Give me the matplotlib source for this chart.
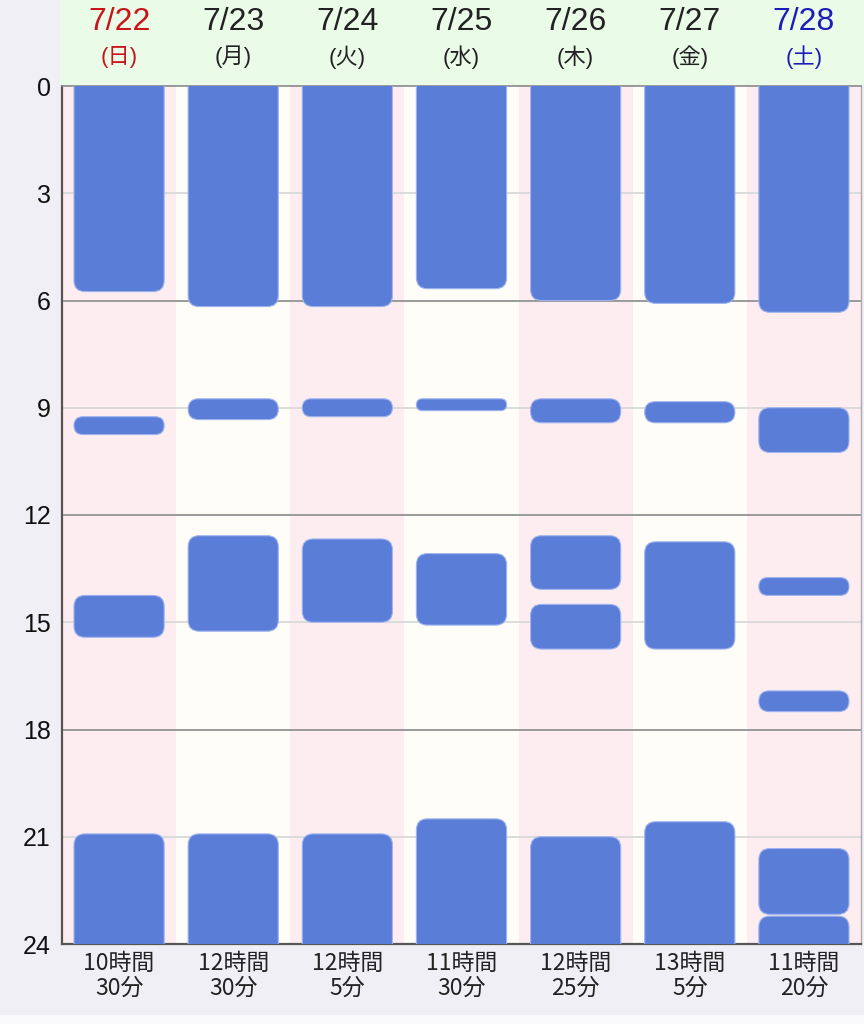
import matplotlib
matplotlib.use("Agg")
import matplotlib.pyplot as plt
from matplotlib.patches import FancyBboxPatch, Rectangle

plt.rcParams['font.family'] = ['Noto Sans CJK JP', 'DejaVu Sans']

# ---------------- data ----------------
dates = ['7/22', '7/23', '7/24', '7/25', '7/26', '7/27', '7/28']
weekdays = ['(日)', '(月)', '(火)', '(水)', '(木)', '(金)', '(土)']
date_colors = ['#c8151b', '#222222', '#222222', '#222222', '#222222', '#222222', '#1c1cb8']
totals = ['10時間\n30分', '12時間\n30分', '12時間\n5分', '11時間\n30分',
          '12時間\n25分', '13時間\n5分', '11時間\n20分']

sleep_start = [
    [0.0, 9.25, 14.25, 20.92],
    [0.0, 8.75, 12.58, 20.92],
    [0.0, 8.75, 12.67, 20.92],
    [0.0, 8.75, 13.08, 20.5],
    [0.0, 8.75, 12.58, 14.5, 21.0],
    [0.0, 8.83, 12.75, 20.58],
    [0.0, 9.0, 13.75, 16.92, 21.33, 23.22],
]
sleep_end = [
    [5.75, 9.75, 15.42, 24.0],
    [6.17, 9.33, 15.25, 24.0],
    [6.17, 9.25, 15.0, 24.0],
    [5.67, 9.08, 15.08, 24.0],
    [6.0, 9.42, 14.08, 15.75, 24.0],
    [6.08, 9.42, 15.75, 24.0],
    [6.33, 10.25, 14.25, 17.5, 23.17, 24.0],
]
hour_ticks = [0, 3, 6, 9, 12, 15, 18, 21, 24]

# ---------------- layout ----------------
W, H = 864, 1024
fig = plt.figure(figsize=(W / 100, H / 100), dpi=100, facecolor='#efeff5')
fig.patches.append(Rectangle((0, 0), 1, 9 / H, transform=fig.transFigure,
                             facecolor='#f9f9fb', edgecolor='none', zorder=0))

x0, x1 = 62, 861
y0, y1 = 86, 944
ax = fig.add_axes([x0 / W, 1 - y1 / H, (x1 - x0) / W, (y1 - y0) / H])
n = len(dates)
ax.set_xlim(-0.5, n - 0.5)
ax.set_ylim(24, 0)

# column backgrounds
for i in range(n):
    ax.axvspan(i - 0.5, i + 0.5, color='#fdedf0' if i % 2 == 0 else '#fffdf8',
               zorder=0, lw=0)

# grid
for h in hour_ticks[1:-1]:
    major = (h % 6 == 0)
    ax.axhline(h, color='#9a9a9a' if major else '#d9d9d9',
               lw=1.4 if major else 1.3, zorder=1)

# bars
bar_w = 0.79
px_x = (x1 - x0) / n
px_y = (y1 - y0) / 24
aspect = px_x / px_y
r_px = 11
r_x = r_px / px_x
for i in range(n):
    for s, e in zip(sleep_start[i], sleep_end[i]):
        hgt = e - s
        r = min(r_x, hgt / aspect / 2)
        ext_top = r * aspect if s <= 0 else 0
        ext_bot = r * aspect if e >= 24 else 0
        p = FancyBboxPatch((i - bar_w / 2, s - ext_top), bar_w, hgt + ext_top + ext_bot,
                           boxstyle=f"round,pad=0,rounding_size={r}",
                           mutation_aspect=aspect,
                           facecolor='#5a7dd8', edgecolor='#9fb4ee', lw=0.8, zorder=3)
        ax.add_patch(p)

ax.set_yticks(hour_ticks)
ax.set_yticklabels([str(h) for h in hour_ticks], fontsize=18, color='#111111',
                   family=['Liberation Sans', 'DejaVu Sans'])
ax.set_xticks(range(n))
ax.set_xticklabels(totals, fontsize=16.5, color='#222222', linespacing=1.1)
ax.tick_params(axis='both', length=0)
ax.tick_params(axis='y', pad=8)
ax.tick_params(axis='x', pad=6)

for side in ['left', 'bottom']:
    ax.spines[side].set_color('#555555')
    ax.spines[side].set_linewidth(1.6)
ax.spines['top'].set_color('#8a8a8a')
ax.spines['top'].set_linewidth(1.2)
ax.spines['right'].set_color('#aaaaaa')
ax.spines['right'].set_linewidth(1.0)

# header
hdr = fig.add_axes([60 / W, 1 - 85 / H, (W - 60) / W, 85 / H])
hdr.set_facecolor('#eafbe8')
hdr.set_xlim(-0.5 - 2 / px_x, n - 0.5 + 3 / px_x)
hdr.set_ylim(85, 0)
hdr.set_xticks([])
hdr.set_yticks([])
for sp in hdr.spines.values():
    sp.set_visible(False)
for i in range(n):
    hdr.text(i, 22, dates[i], ha='center', va='center', fontsize=23,
             color=date_colors[i], family=['Liberation Sans', 'DejaVu Sans'])
    hdr.text(i, 57, weekdays[i], ha='center', va='center', fontsize=16,
             color=date_colors[i], family=['Liberation Sans', 'Noto Sans CJK JP'])

fig.savefig('out.png', dpi=100, facecolor=fig.get_facecolor())
